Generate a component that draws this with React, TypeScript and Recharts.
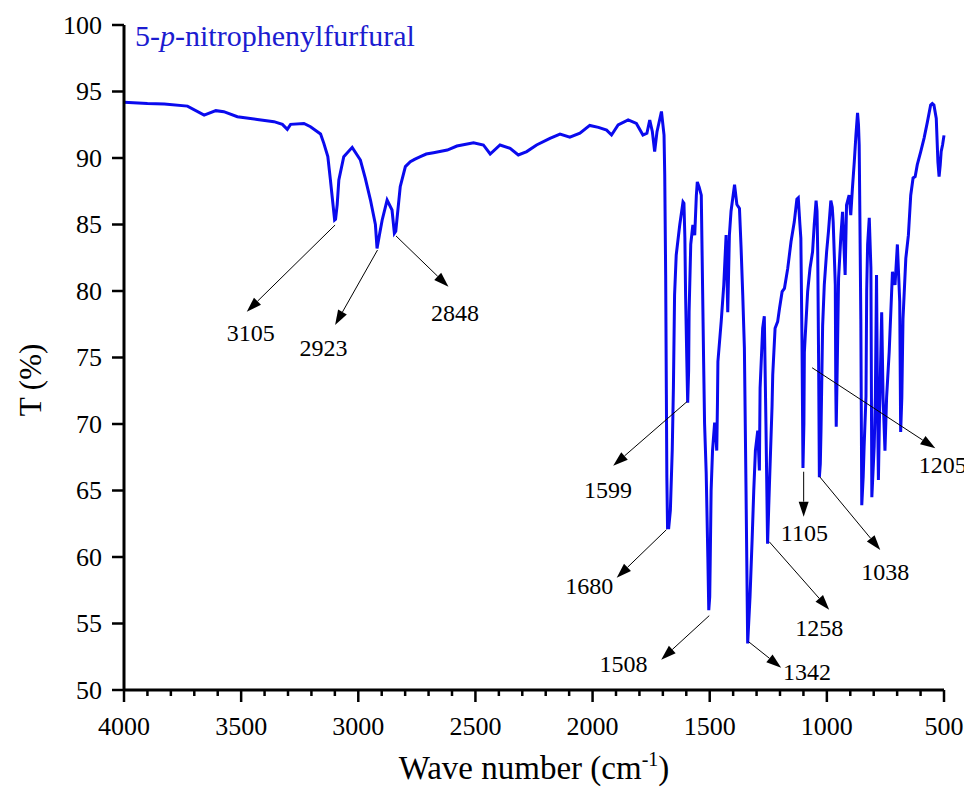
import { LineChart, Line, XAxis, YAxis, ReferenceLine, ReferenceDot } from "recharts";

const waveNumbers = [
  4000, 3900, 3828, 3729, 3658, 3608, 3574, 3516, 3431, 3360, 3324, 3303, 3289, 3232, 3204, 3161,
  3147, 3130, 3119, 3107, 3101, 3097, 3090, 3083, 3062, 3026, 2991, 2970, 2948, 2927, 2920, 2910,
  2898, 2877, 2856, 2846, 2840, 2821, 2799, 2778, 2760, 2735, 2710, 2679, 2620, 2579, 2508, 2466,
  2437, 2395, 2352, 2317, 2281, 2239, 2182, 2139, 2097, 2054, 2012, 1975, 1940, 1919, 1891, 1848,
  1813, 1785, 1768, 1756, 1745, 1735, 1725, 1706, 1695, 1692, 1688, 1685, 1683, 1680, 1675, 1668,
  1660, 1655, 1650, 1643, 1628, 1614, 1610, 1606, 1603, 1598, 1594, 1590, 1588, 1581, 1572, 1564,
  1557, 1553, 1545, 1536, 1532, 1526, 1522, 1515, 1508, 1504, 1500, 1498, 1494, 1488, 1479, 1473,
  1470, 1467, 1465, 1451, 1440, 1430, 1423, 1416, 1409, 1394, 1384, 1373, 1366, 1359, 1352, 1345,
  1338, 1328, 1319, 1312, 1305, 1295, 1288, 1285, 1274, 1267, 1260, 1253, 1245, 1234, 1231, 1221,
  1210, 1202, 1191, 1181, 1167, 1153, 1139, 1128, 1122, 1115, 1111, 1106, 1102, 1098, 1096, 1082,
  1072, 1061, 1054, 1046, 1042, 1039, 1035, 1032, 1028, 1025, 1018, 1011, 1001, 993, 983, 977,
  973, 964, 962, 960, 956, 950, 940, 933, 922, 916, 905, 898, 891, 883, 876, 869,
  865, 862, 859, 855, 851, 845, 841, 833, 830, 826, 819, 812, 808, 798, 793, 788,
  784, 780, 776, 766, 760, 752, 745, 734, 720, 709, 699, 689, 685, 680, 675, 663,
  652, 642, 632, 623, 614, 599, 585, 571, 557, 550, 543, 533, 526, 521, 516, 512,
  506, 500,
];

// transmittance T (%)
const transmittance = [
  94.2, 94.1, 94.06, 93.9, 93.23, 93.56, 93.48, 93.1, 92.9, 92.73, 92.53, 92.16, 92.53, 92.6, 92.35, 91.8,
  91.1, 90.1, 88.35, 86.34, 85.34, 85.4, 86.5, 88.35, 90.1, 90.8, 89.85, 88.47, 86.84, 85.0, 83.2, 84.2,
  85.34, 86.84, 86.09, 84.34, 84.5, 87.84, 89.35, 89.72, 89.9, 90.1, 90.3, 90.4, 90.6, 90.9, 91.15, 90.98,
  90.3, 90.98, 90.73, 90.23, 90.48, 90.98, 91.48, 91.8, 91.56, 91.86, 92.45, 92.3, 92.1, 91.73, 92.48, 92.86,
  92.6, 91.73, 91.86, 92.86, 92.0, 90.48, 91.98, 93.5, 91.73, 88.72, 81.2, 72.2, 66.0, 62.2, 62.2, 63.5,
  68.0, 72.7, 79.7, 82.7, 84.96, 86.7, 86.6, 84.0, 79.7, 75.0, 71.6, 74.0, 78.4, 83.5, 84.96, 84.2,
  87.2, 88.2, 87.8, 87.2, 82.2, 74.7, 70.05, 66.3, 60.0, 56.0, 57.0, 59.5, 65.0, 68.0, 70.1, 69.0,
  68.0, 71.5, 74.7, 77.7, 80.45, 84.2, 78.4, 84.2, 86.0, 88.0, 86.5, 86.2, 83.2, 79.7, 75.7, 65.0,
  53.5, 57.0, 61.3, 65.0, 68.0, 69.5, 66.5, 72.7, 77.2, 78.1, 70.0, 61.0, 65.5, 71.3, 73.7, 77.2,
  77.7, 78.7, 79.95, 80.2, 81.7, 83.7, 85.2, 86.9, 87.0, 85.0, 83.96, 75.9, 66.7, 70.0, 75.4, 79.95,
  81.7, 82.95, 84.96, 86.8, 86.0, 82.95, 74.2, 66.0, 67.0, 69.5, 77.4, 80.45, 82.95, 84.5, 86.8, 86.3,
  85.2, 80.45, 72.9, 69.8, 74.0, 80.95, 84.2, 85.96, 81.2, 86.47, 87.2, 85.7, 87.7, 89.7, 91.7, 93.4,
  92.5, 90.98, 85.5, 77.9, 63.9, 66.0, 68.3, 72.05, 80.0, 83.5, 85.5, 81.7, 64.5, 68.3, 72.0, 81.2,
  72.0, 65.8, 70.0, 78.4, 72.0, 68.0, 72.0, 75.4, 81.45, 80.45, 83.5, 79.2, 69.4, 72.0, 77.9, 82.45,
  84.2, 87.2, 88.5, 88.6, 89.5, 90.5, 91.5, 92.7, 93.98, 94.1, 93.98, 92.98, 89.7, 88.6, 89.5, 90.5,
  91.0, 91.7,
];

const majorTicks = [4000, 3500, 3000, 2500, 2000, 1500, 1000, 500];
const xTicks = [
  4000, 3900, 3800, 3700, 3600, 3500, 3400, 3300, 3200, 3100, 3000, 2900, 2800, 2700, 2600, 2500,
  2400, 2300, 2200, 2100, 2000, 1900, 1800, 1700, 1600, 1500, 1400, 1300, 1200, 1100, 1000, 900,
  800, 700, 600, 500,
];
const yTicks = [50, 55, 60, 65, 70, 75, 80, 85, 90, 95, 100];

// peak labels: arrow start (on the band), arrow tip, text centre
const peakLabels = ["3105", "2923", "2848", "1599", "1680", "1508", "1342", "1258", "1105", "1038", "1205"];
const arrowFrom = [
  [3099, 84.96], [2918, 83.08], [2839, 84.14], [1597, 71.68], [1685, 62.05], [1502, 55.59],
  [1334, 53.63], [1246, 61.15], [1099, 66.41], [1031, 66.04], [1063, 74.23],
];
const arrowTo = [
  [3476, 78.44], [3099, 77.44], [2615, 80.32], [1912, 66.86], [1897, 58.44], [1707, 52.28],
  [1195, 51.68], [990, 56.04], [1099, 63.03], [772, 60.53], [537, 68.17],
];
const labelAt = [
  [3459, 76.82], [3149, 75.68], [2587, 78.32], [1934, 65.06], [2014, 57.84], [1868, 51.98],
  [1085, 51.38], [1033, 54.68], [1096, 61.8], [751, 58.9], [505, 66.9],
];

const data = waveNumbers.map((wn, i) => ({ wn, t: transmittance[i] }));

const FONT = "Liberation Serif, Times New Roman, serif";
const serif = { fontFamily: FONT };
const BLUE = "#0a0aee";

function XTick(props: any) {
  const { x, y, payload } = props;
  const major = majorTicks.includes(payload.value);
  return (
    <g>
      <line x1={x} y1={y} x2={x} y2={y + (major ? 12 : 6)} stroke="#000" strokeWidth={2.5} />
      {major && (
        <text x={x} y={y + 45} textAnchor="middle" style={serif} fontSize={26} fill="#000">
          {payload.value}
        </text>
      )}
    </g>
  );
}

function YTick(props: any) {
  const { x, y, payload } = props;
  return (
    <text x={x} y={y} textAnchor="end" dominantBaseline="central" style={serif} fontSize={26} fill="#000">
      {payload.value}
    </text>
  );
}

function Arrow(props: any) {
  const { x1, y1, x2, y2 } = props;
  const dx = x2 - x1;
  const dy = y2 - y1;
  const len = Math.sqrt(dx * dx + dy * dy) || 1;
  const ux = dx / len;
  const uy = dy / len;
  const bx = x2 - ux * 15;
  const by = y2 - uy * 15;
  const px = -uy * 5;
  const py = ux * 5;
  return (
    <g>
      <line x1={x1} y1={y1} x2={bx} y2={by} stroke="#000" strokeWidth={1} />
      <polygon points={`${x2},${y2} ${bx + px},${by + py} ${bx - px},${by - py}`} fill="#000" />
    </g>
  );
}

export default function App() {
  return (
    <LineChart
      width={964}
      height={784}
      data={data}
      margin={{ top: 17, right: 28, left: 6, bottom: 42 }}
      style={{ overflow: "visible" }}
    >
      <XAxis
        dataKey="wn"
        type="number"
        domain={[500, 4000]}
        reversed
        ticks={xTicks}
        interval={0}
        tick={<XTick />}
        tickLine={false}
        tickSize={0}
        tickMargin={0}
        height={60}
        axisLine={{ stroke: "#000", strokeWidth: 3 }}
        label={{
          content: (p: any) => {
            const vb = p.viewBox;
            return (
              <text x={vb.x + vb.width / 2} y={vb.y + 89} textAnchor="middle" style={serif} fontSize={33} fill="#000">
                Wave number (cm
                <tspan dy={-13} fontSize={20}>-1</tspan>
                <tspan dy={13}>)</tspan>
              </text>
            );
          },
        }}
      />
      <YAxis
        type="number"
        domain={[50, 100]}
        ticks={yTicks}
        interval={0}
        width={110}
        tickSize={12}
        tickMargin={10}
        tickLine={{ stroke: "#000", strokeWidth: 2.5 }}
        axisLine={{ stroke: "#000", strokeWidth: 3 }}
        tick={<YTick />}
        label={{
          content: (p: any) => {
            const vb = p.viewBox;
            const cx = vb.x + 16;
            return (
              <text
                x={cx}
                y={372}
                transform={`rotate(-90 ${cx} 372)`}
                textAnchor="middle"
                dominantBaseline="central"
                style={serif}
                fontSize={31}
                fill="#000"
              >
                T (%)
              </text>
            );
          },
        }}
      />
      <Line type="linear" dataKey="t" stroke={BLUE} strokeWidth={3} dot={false} isAnimationActive={false} />
      {peakLabels.map((lab, i) => (
        <ReferenceLine
          key={"a" + lab}
          segment={[
            { x: arrowFrom[i][0], y: arrowFrom[i][1] },
            { x: arrowTo[i][0], y: arrowTo[i][1] },
          ]}
          ifOverflow="visible"
          shape={(p: any) => <Arrow {...p} />}
        />
      ))}
      {peakLabels.map((lab, i) => (
        <ReferenceDot
          key={"t" + lab}
          x={labelAt[i][0]}
          y={labelAt[i][1]}
          ifOverflow="visible"
          shape={(p: any) => (
            <text x={p.cx} y={p.cy} textAnchor="middle" dominantBaseline="central" style={serif} fontSize={24} fill="#000">
              {lab}
            </text>
          )}
        />
      ))}
      <ReferenceDot
        x={3953}
        y={98.42}
        ifOverflow="visible"
        shape={(p: any) => (
          <text x={p.cx} y={p.cy} style={serif} fontSize={30} fill="#1c1cd0">
            5-<tspan fontStyle="italic">p</tspan>-nitrophenylfurfural
          </text>
        )}
      />
    </LineChart>
  );
}
